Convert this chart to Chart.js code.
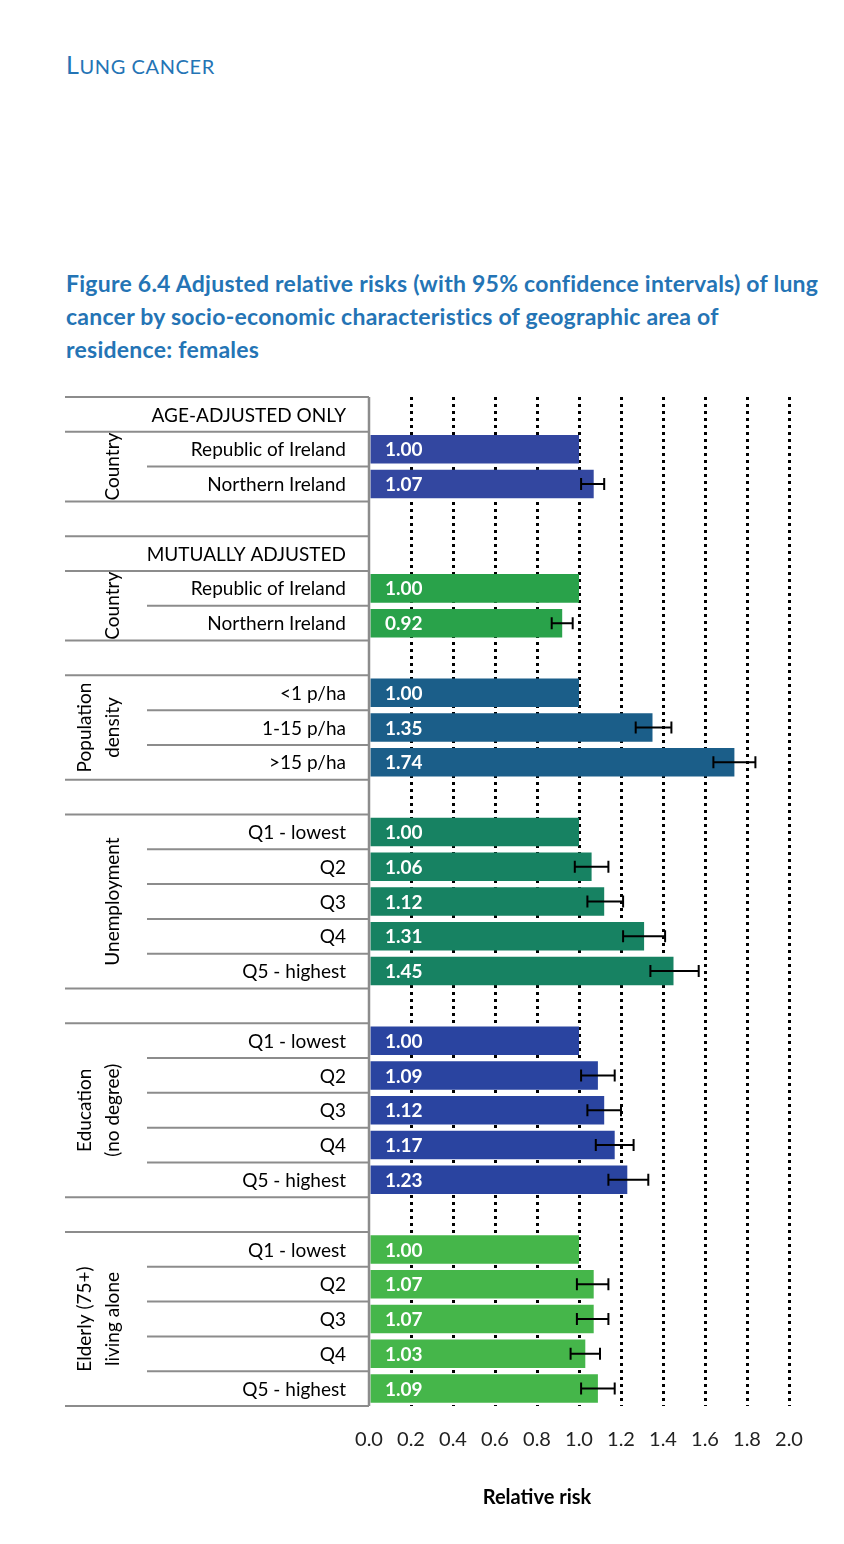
<!DOCTYPE html>
<html><head><meta charset="utf-8">
<script src="https://cdn.jsdelivr.net/npm/chart.js@4"></script>
<style>
body{margin:0;background:#fff;width:844px;height:1544px;position:relative;overflow:hidden;font-family:Lato,"Open Sans",sans-serif}
#h{position:absolute;left:66px;top:49px;color:#2474b5;font-size:25px;letter-spacing:0.6px}
#h small{font-size:20px}
#t{position:absolute;left:66px;top:267px;width:760px;color:#2474b5;font-size:23px;font-weight:bold;line-height:33px;letter-spacing:0.25px}
#c{position:absolute;left:0;top:0}
</style></head><body>
<div id="h">L<small>UNG CANCER</small></div>
<div id="t">Figure 6.4 Adjusted relative risks (with 95% confidence intervals) of lung cancer by socio-economic characteristics of geographic area of residence: females</div>
<canvas id="c" width="844" height="1544"></canvas>
<script>
const labels=["AGE-ADJUSTED ONLY","Republic of Ireland","Northern Ireland","","MUTUALLY ADJUSTED","Republic of Ireland","Northern Ireland","",
"<1 p/ha","1-15 p/ha",">15 p/ha","",
"Q1 - lowest","Q2","Q3","Q4","Q5 - highest","",
"Q1 - lowest","Q2","Q3","Q4","Q5 - highest","",
"Q1 - lowest","Q2","Q3","Q4","Q5 - highest"];
const values=[null,1.00,1.07,null,null,1.00,0.92,null,1.00,1.35,1.74,null,1.00,1.06,1.12,1.31,1.45,null,1.00,1.09,1.12,1.17,1.23,null,1.00,1.07,1.07,1.03,1.09];
const ciLow=[null,null,1.01,null,null,null,0.87,null,null,1.27,1.64,null,null,0.98,1.04,1.21,1.34,null,null,1.01,1.04,1.08,1.14,null,null,0.99,0.99,0.96,1.01];
const ciHigh=[null,null,1.12,null,null,null,0.97,null,null,1.44,1.84,null,null,1.14,1.21,1.41,1.57,null,null,1.17,1.20,1.26,1.33,null,null,1.14,1.14,1.10,1.17];
const groupColors=["#3347a0","#29a24a","#1b5e89","#178262","#2a44a0","#45b64a"];
const rowGroup=[0,0,0,-1,1,1,1,-1,2,2,2,-1,3,3,3,3,3,-1,4,4,4,4,4,-1,5,5,5,5,5];
const groups=[{from:1,to:2,lines:["Country"]},{from:5,to:6,lines:["Country"]},{from:8,to:10,lines:["Population","density"]},
{from:12,to:16,lines:["Unemployment"]},{from:18,to:22,lines:["Education","(no degree)"]},{from:24,to:28,lines:["Elderly (75+)","living alone"]}];
const xTicks=["0.0","0.2","0.4","0.6","0.8","1.0","1.2","1.4","1.6","1.8","2.0"];
const isItem=i=>i>=0&&i<labels.length&&values[i]!==null;
const isRow=i=>labels[i]!=="";
const F="Lato, 'Open Sans', sans-serif";
const plug={id:'tbl',
afterDatasetsDraw(ch){const c=ch.ctx,y=ch.scales.y,x=ch.scales.x;
 c.save();
 c.strokeStyle="#000";c.lineWidth=2;
 values.forEach((v,i)=>{if(ciLow[i]==null)return;const yy=y.getPixelForValue(i),a=x.getPixelForValue(ciLow[i]),b=x.getPixelForValue(ciHigh[i]);
  c.beginPath();c.moveTo(a,yy);c.lineTo(b,yy);c.moveTo(a,yy-6);c.lineTo(a,yy+6);c.moveTo(b,yy-6);c.lineTo(b,yy+6);c.stroke();});
 c.fillStyle="#fff";c.font="bold 19px "+F;c.textBaseline="middle";c.textAlign="left";
 values.forEach((v,i)=>{if(v==null)return;c.fillText(v.toFixed(2),x.left+16,y.getPixelForValue(i)+1);});
 c.fillStyle="#000";c.font="19px "+F;c.textAlign="right";
 labels.forEach((l,i)=>{if(l)c.fillText(l,346,y.getPixelForValue(i)+1);});
 const step=y.getPixelForValue(1)-y.getPixelForValue(0);
 c.strokeStyle="#8c8c8c";c.lineWidth=2;
 for(let b=-1;b<labels.length;b++){const yy=y.getPixelForValue(b)+step/2;let x0=null;
  if(isItem(b)&&isItem(b+1)&&rowGroup[b]===rowGroup[b+1]&&b!==0)x0=147;
  else if((b>=0&&isRow(b))||(b+1<labels.length&&isRow(b+1)))x0=65;
  if(x0!==null){c.beginPath();c.moveTo(x0,yy);c.lineTo(x.left,yy);c.stroke();}}
 c.fillStyle="#000";c.font="19px "+F;c.textAlign="center";
 groups.forEach(g=>{const mid=(y.getPixelForValue(g.from)+y.getPixelForValue(g.to))/2;
  const n=g.lines.length;g.lines.forEach((t,k)=>{const cx=n===1?113:(k===0?85:113);
   c.save();c.translate(cx,mid);c.rotate(-Math.PI/2);c.fillText(t,0,0);c.restore();});});
 c.strokeStyle="#8c8c8c";c.lineWidth=2.5;c.beginPath();c.moveTo(x.left,y.top);c.lineTo(x.left,y.bottom);c.stroke();
 c.fillStyle="#000";c.font="bold 20px "+F;c.textAlign="center";c.fillText("Relative risk",537,1498);
 c.restore();}};
new Chart(document.getElementById('c'),{type:'bar',
data:{labels,datasets:[{data:values,backgroundColor:rowGroup.map(g=>groupColors[g]||"#000"),barPercentage:0.82,categoryPercentage:1}]},
options:{indexAxis:'y',responsive:false,animation:false,
 layout:{padding:{left:369,right:55,top:397,bottom:70}},
 plugins:{legend:{display:false},tooltip:{enabled:false}},
 scales:{
  y:{display:false},
  x:{min:0,max:2,border:{display:false,dash:[3,4]},
   grid:{color:c=>c.tick.value===0?'rgba(0,0,0,0)':'#000',lineWidth:3,drawTicks:false},
   ticks:{stepSize:0.2,padding:22,color:"#222",font:{size:20,family:F},callback:(v,i)=>xTicks[i]}}}},
plugins:[plug]});
</script></body></html>
